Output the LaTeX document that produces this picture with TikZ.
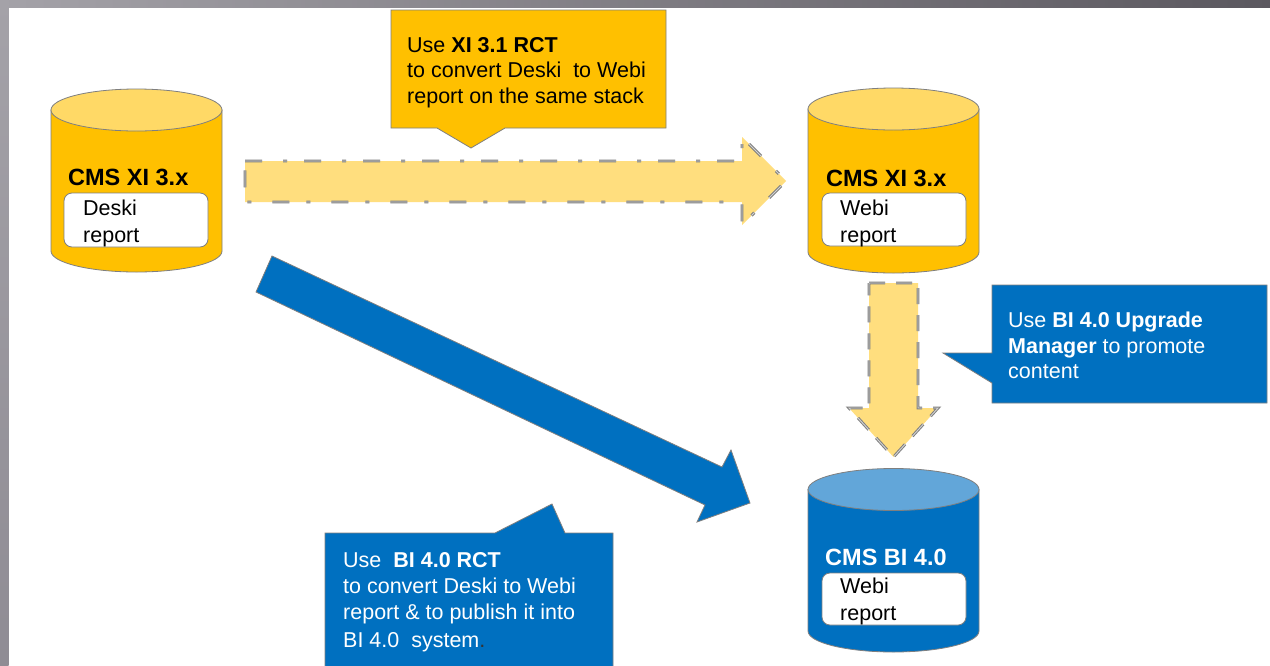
\documentclass[tikz,border=0pt]{standalone}
\usepackage{fontspec}
\setmainfont{Liberation Sans}
\definecolor{gold}{HTML}{FFC000}
\definecolor{goldtop}{HTML}{FFD966}
\definecolor{paleyel}{HTML}{FFDE7E}
\definecolor{sapblue}{HTML}{0070C0}
\definecolor{bluetop}{HTML}{62A6D9}
\definecolor{edge}{HTML}{7F7F7F}
\definecolor{frameL}{HTML}{A4A2A8}
\definecolor{frameD}{HTML}{5B585F}
\definecolor{frameM}{HTML}{8F8C94}
\newcommand\dbcyl[5]{%
  \filldraw[fill=#4,draw=edge,line width=0.8] ({#1-85.5},#2) -- ({#1-85.5},#3)
    arc[start angle=180,end angle=0,x radius=85.5,y radius=21] -- ({#1+85.5},#2) -- cycle;
  \filldraw[fill=#5,draw=edge,line width=0.8] (#1,#2) ellipse [x radius=85.5,y radius=21];}
\begin{document}
\begin{tikzpicture}[x=1pt,y=-1pt,
  lbl/.style={anchor=base west,inner sep=0pt,font=\fontsize{21.5}{25}\selectfont},
  ttl/.style={anchor=base west,inner sep=0pt,font=\fontsize{23.5}{28}\selectfont\bfseries},
  rbox/.style={draw=edge,fill=white,line width=0.8,rounded corners=8pt},
  dasharrow/.style={fill=paleyel,draw=edge,line width=1,double=gray!35,double distance=0.9pt},
  callout/.style={draw=edge,line width=0.8}]
\useasboundingbox (0,0) rectangle (1270,665);
\clip (0,0) rectangle (1270,665);
\fill[white] (0,0) rectangle (1270,665);
\shade[left color=frameL,right color=frameD] (0,0) rectangle (1270,7.5);
\shade[top color=frameL,bottom color=frameM] (0,0) rectangle (8.5,665);

% cylinders
\dbcyl{136.5}{110}{251}{gold}{goldtop}
\dbcyl{893.5}{109}{252}{gold}{goldtop}
\dbcyl{893.5}{489.5}{631}{sapblue}{bluetop}

\node[ttl] (t1) at (68,185) {CMS XI 3.x};
\draw[rbox] (64,193) rectangle (208,247);
\node[lbl] (d1) at (83,215) {Deski};
\node[lbl] (d2) at (83,242) {report};

\node[ttl] (t2) at (826,186) {CMS XI 3.x};
\draw[rbox] (822,193) rectangle (966,246);
\node[lbl] (w1) at (840,215) {Webi};
\node[lbl] (w2) at (840,242) {report};

\node[ttl,text=white] (t3) at (825,565) {CMS BI 4.0};
\draw[rbox] (822,573) rectangle (966,625);
\node[lbl] (v1) at (840,593) {Webi};
\node[lbl] (v2) at (840,620) {report};

% horizontal dashed block arrow
\coordinate (h1) at (245,161); \coordinate (h2) at (742,161);
\coordinate (h3) at (742,137); \coordinate (htip) at (786,181);
\coordinate (h5) at (742,225); \coordinate (h6) at (742,202);
\coordinate (h7) at (245,202);
\draw[dasharrow,dash pattern=on 17pt off 21pt on 4pt off 17pt]
  (h1) -- (h2) -- (h3) -- (htip) -- (h5) -- (h6) -- (h7) -- cycle;

% vertical dashed block arrow
\coordinate (v1a) at (869,283); \coordinate (v2a) at (918,283);
\coordinate (v3a) at (918,408); \coordinate (v4a) at (938,408);
\coordinate (vtip) at (893.5,457); \coordinate (v6a) at (849,408);
\coordinate (v7a) at (869,408);
\draw[dasharrow,dash pattern=on 16pt off 11pt]
  (v1a) -- (v2a) -- (v3a) -- (v4a) -- (vtip) -- (v6a) -- (v7a) -- cycle;

% blue diagonal block arrow
\coordinate (b1) at (272,256); \coordinate (b2) at (722,467);
\coordinate (b3) at (731,450); \coordinate (btip) at (750,503);
\coordinate (b5) at (697,522); \coordinate (b6) at (705,505);
\coordinate (b7) at (256,292);
\filldraw[fill=sapblue,draw=edge,line width=0.8]
  (b1) -- (b2) -- (b3) -- (btip) -- (b5) -- (b6) -- (b7) -- cycle;

% yellow callout
\filldraw[callout,fill=gold] (391,10) -- (666,10) -- (666,128) -- (505,128)
  -- (471,148) -- (437,128) -- (391,128) -- cycle;
\node[lbl] (y1) at (407,52) {Use \textbf{XI 3.1 RCT}};
\node[lbl] (y2) at (407,77) {to convert Deski\ \ to Webi};
\node[lbl] (y3) at (407,103) {report on the same stack};

% right blue callout
\filldraw[callout,fill=sapblue] (992,285) -- (1267,285) -- (1267,403) -- (992,403)
  -- (992,383) -- (943,353) -- (992,353) -- cycle;
\node[lbl,text=white] (r1) at (1008,327) {Use \textbf{BI 4.0 Upgrade}};
\node[lbl,text=white] (r2) at (1008,353) {\textbf{Manager} to promote};
\node[lbl,text=white] (r3) at (1008,378) {content};

% bottom blue callout
\filldraw[callout,fill=sapblue] (325,533) -- (495,533) -- (552,504) -- (565,533)
  -- (613,533) -- (613,670) -- (325,670) -- cycle;
\node[lbl,text=white] (s1) at (343,567) {Use\ \ \textbf{BI 4.0 RCT}};
\node[lbl,text=white] (s2) at (343,593) {to convert Deski to Webi};
\node[lbl,text=white] (s3) at (343,619) {report \& to publish it into};
\node[lbl,text=white] (s4) at (343,647) {BI 4.0\ \ system\textcolor{black!80}{.}};
\end{tikzpicture}
\end{document}
